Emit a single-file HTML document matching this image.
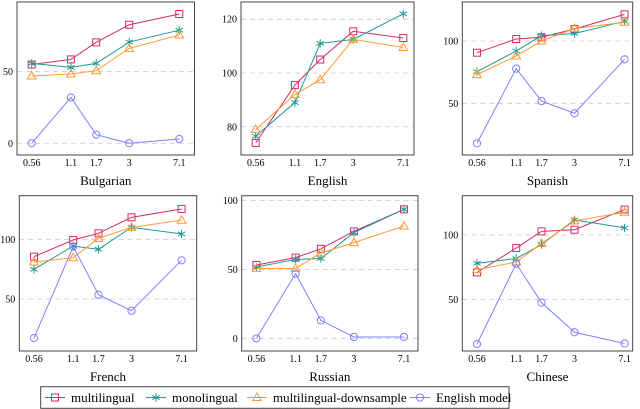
<!DOCTYPE html>
<html><head><meta charset="utf-8">
<style>
html,body{margin:0;padding:0;background:#fff;}
svg{display:block;font-family:"Liberation Serif",serif;}
</style></head>
<body>
<svg id="chart" width="640" height="409" viewBox="0 0 640 409" xmlns="http://www.w3.org/2000/svg"></svg>
<script>
const xCategories = [0.56, 1.1, 1.7, 3, 7.1];
const xTickLabels = ["0.56", "1.1", "1.7", "3", "7.1"];
const panelTitles = ["Bulgarian", "English", "Spanish", "French", "Russian", "Chinese"];
const seriesNames = ["multilingual", "monolingual", "multilingual-downsample", "English model"];

const bgMulti = [55, 58.6, 70.5, 82.8, 90.3];
const bgMono = [55.8, 53, 55.8, 70.7, 79];
const bgDown = [47, 48.4, 50.7, 66.3, 75.6];
const bgEng = [0, 32, 6, 0, 3];

const enMulti = [74, 95.5, 105, 115.5, 113];
const enMono = [76.5, 89, 111, 112.5, 122];
const enDown = [79, 92, 97.5, 112.5, 109.5];
const enEng = null;

const esMulti = [90.6, 101.6, 103, 109.6, 121.4];
const esMono = [75.4, 92, 104.3, 106, 115.8];
const esDown = [73, 88, 100, 110, 115];
const esEng = [17.9, 77.8, 51.8, 42, 85.3];

const frMulti = [85.5, 99.4, 105, 118.4, 125.4];
const frMono = [74.9, 94.4, 91.6, 110, 104.5];
const frDown = [81, 84.6, 100.8, 110, 116];
const frEng = [17.3, 93.9, 53.6, 40.2, 82.4];

const ruMulti = [53.3, 58.6, 65, 77.7, 93.7];
const ruMono = [51.8, 57.3, 58, 76.8, 93.7];
const ruDown = [50.8, 50.8, 62, 69.5, 81.6];
const ruEng = [0, 47, 13, 1, 1];

const zhMulti = [71, 89.8, 102.7, 104, 119.6];
const zhMono = [78, 81.7, 92.5, 111.6, 105.4];
const zhDown = [73, 79, 93.3, 110.8, 117.5];
const zhEng = [15.6, 77.7, 47.6, 24.7, 16];

const yTicksBg = [0, 50];
const yTicksEn = [80, 100, 120];
const yTicksEs = [50, 100];
const yTicksFr = [50, 100];
const yTicksRu = [0, 50, 100];
const yTicksZh = [50, 100];

const panels = [
  {left:17, right:194.5, top:2, bottom:155, ymin:-8.2, ymax:98.7, ticks:yTicksBg, series:[bgMulti,bgMono,bgDown,bgEng]},
  {left:241, right:414, top:2, bottom:155, ymin:69.5, ymax:126.4, ticks:yTicksEn, series:[enMulti,enMono,enDown,enEng]},
  {left:462.3, right:632.7, top:2, bottom:155, ymin:8.5, ymax:131.3, ticks:yTicksEs, series:[esMulti,esMono,esDown,esEng]},
  {left:19.3, right:196.7, top:195.7, bottom:351, ymin:6.5, ymax:136.5, ticks:yTicksFr, series:[frMulti,frMono,frDown,frEng]},
  {left:241.7, right:418, top:195.7, bottom:351, ymin:-9.2, ymax:103.6, ticks:yTicksRu, series:[ruMulti,ruMono,ruDown,ruEng]},
  {left:462.3, right:632.7, top:195.7, bottom:351, ymin:10.2, ymax:130.3, ticks:yTicksZh, series:[zhMulti,zhMono,zhDown,zhEng]}
];
const colors = ["#d62a6a", "#1a9a96", "#ff9a33", "#8080ff"];
const markers = ["square", "star", "tri", "circle"];
const NS = "http://www.w3.org/2000/svg";
const svg = document.getElementById("chart");
function mk(tag, attrs, parent){
  const e = document.createElementNS(NS, tag);
  for (const k in attrs) e.setAttribute(k, attrs[k]);
  (parent||svg).appendChild(e);
  return e;
}
function marker(type, x, y, color, g){
  let m;
  if (type==="square") m = mk("rect",{x:x-3.5,y:y-3.5,width:7,height:7,fill:"none",stroke:color,"stroke-width":1},g);
  else if (type==="circle") m = mk("circle",{cx:x,cy:y,r:3.6,fill:"none",stroke:color,"stroke-width":1},g);
  else if (type==="tri") m = mk("polygon",{points:`${x},${y-4.5} ${x-4.3},${y+3} ${x+4.3},${y+3}`,fill:"none",stroke:color,"stroke-width":1},g);
  else {
    let d="";
    for (let i=0;i<3;i++){const a=Math.PI/2+i*Math.PI/3;const dx=4.2*Math.cos(a),dy=4.2*Math.sin(a);d+=`M${x-dx},${y-dy}L${x+dx},${y+dy}`;}
    m = mk("path",{d:d,fill:"none",stroke:color,"stroke-width":1},g);
  }
  return m;
}
panels.forEach((p, pi) => {
  const g = mk("g", {});
  
  
  const x0 = p.left + 14.7;
  const xs = v => x0 + 58.1 * (Math.log(v) - Math.log(xCategories[0]));
  const ys = v => p.bottom - (v - p.ymin) / (p.ymax - p.ymin) * (p.bottom - p.top);
  p.ticks.forEach(t => {
    const y = ys(t);
    const gl = mk("line",{x1:p.left,x2:p.right,y1:y,y2:y,stroke:"#c8c8c8","stroke-width":0.8,"stroke-dasharray":"5,4"},g);
    
    
    const tl = mk("text",{x:p.left-4,y:y+3.5,"text-anchor":"end","font-size":"10"},g);
    tl.textContent = String(t);
    
    
  });
  xCategories.forEach((c, i) => {
    const tl = mk("text",{x:xs(c),y:p.bottom+11,"text-anchor":"middle","font-size":"10"},g);
    tl.textContent = xTickLabels[i];
    
    
  });
  p.series.forEach((s, si) => {
    if (!s) return;
    const sg = mk("g", {}, g);
    
    
    const pts = s.map((v, i) => xs(xCategories[i]) + "," + ys(v)).join(" ");
    mk("polyline",{points:pts,fill:"none",stroke:colors[si],"stroke-width":1},sg);
    s.forEach((v, i) => {
      const m = marker(markers[si], xs(xCategories[i]), ys(v), colors[si], sg);
      
      
    });
  });
  const box = mk("rect",{x:p.left,y:p.top,width:p.right-p.left,height:p.bottom-p.top,fill:"none",stroke:"#444","stroke-width":1},g);
  
  
  const title = mk("text",{x:(p.left+p.right)/2,y:p.bottom+30,"text-anchor":"middle","font-size":"13"},g);
  title.textContent = panelTitles[pi];
  
  
});
// legend
const lg = mk("g", {});


mk("rect",{x:40.7,y:386.7,width:468.3,height:21.6,fill:"#fff",stroke:"#444","stroke-width":1},lg);
const legendX = [45, 146, 247, 410];
seriesNames.forEach((n, i) => {
  const eg = mk("g", {}, lg);
  
  
  const x = legendX[i], y = 397.5;
  mk("line",{x1:x,x2:x+20,y1:y,y2:y,stroke:colors[i],"stroke-width":1},eg);
  marker(markers[i], x+10, y, colors[i], eg);
  const t = mk("text",{x:x+26,y:y+4.5,"font-size":"13"},eg);
  t.textContent = n;
});
</script>
</body></html>
